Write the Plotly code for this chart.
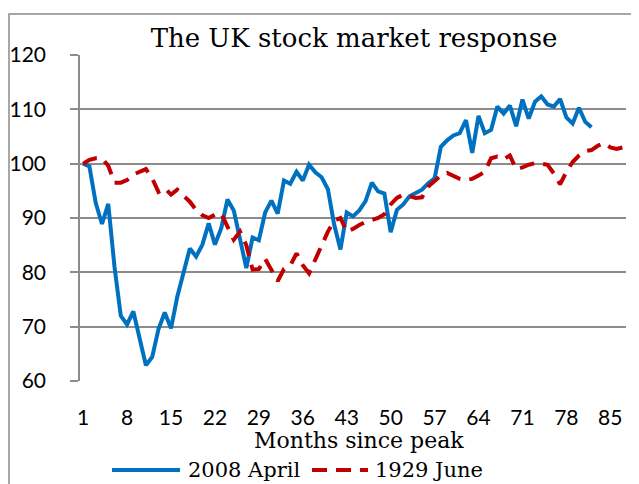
import plotly.graph_objects as go

months = list(range(1, 88))
tick_vals = [1, 8, 15, 22, 29, 36, 43, 50, 57, 64, 71, 78, 85]

series_2008 = [
    100, 99.5, 92.8, 88.9, 92.6, 81, 72, 70.4, 72.8, 68,
    62.9, 64.4, 69.5, 72.6, 69.7, 75.5, 80.2, 84.4, 82.9, 85.1,
    89, 85.1, 88.1, 93.4, 91.4, 86, 80.8, 86.4, 85.9, 91,
    93.2, 90.8, 96.9, 96.3, 98.5, 96.9, 99.8, 98.4, 97.5, 95.3,
    88.8, 84.2, 91, 90.3, 91.4, 93.1, 96.5, 94.9, 94.5, 87.4,
    91.5, 92.5, 94, 94.6, 95.2, 96.4, 97.3, 103.1, 104.3, 105.2,
    105.6, 108, 102, 108.8, 105.6, 106.2, 110.5, 109.2, 110.7, 106.9,
    111.8, 108.3, 111.4, 112.4, 110.9, 110.5, 111.9, 108.5, 107.4, 110.3,
    107.7, 106.7,
]

series_1929 = [
    100, 100.7, 101, 101, 99.6, 96.5, 96.5, 97, 98, 98.6,
    99, 97.3, 94.8, 95.5, 94.3, 95.2, 94.2, 93, 91.5, 90.5,
    90, 90.6, 90.8, 88.5, 86, 87.5, 85, 80.5, 80.6, 82.5,
    80.4, 78.4, 80.6, 81.2, 83.5, 81.3, 79.8, 82.5, 85, 87.5,
    89.5, 90, 87.5, 88, 88.7, 89.3, 89.6, 90, 90.7, 92.5,
    93.7, 94.3, 94, 93.7, 93.8, 95.8, 96.8, 97.8, 98.3, 97.8,
    97.2, 97, 97.2, 97.8, 98.5, 101, 101.3, 100.8, 101.5, 99,
    99.3, 99.8, 100.1, 100, 99.8, 98.2, 96.2, 98.5, 100.3, 101.5,
    102.3, 102.5, 103.3, 103.8, 103, 102.7, 103,
]

names = ["2008 April", "1929 June"]
BLUE = "#0070C0"
RED = "#C00000"
GRID = "#8c8c8c"
DASH = "15px,9px"

fig = go.Figure()
fig.add_trace(go.Scatter(x=months[:len(series_2008)], y=series_2008, mode="lines",
                         name=names[0], line=dict(color=BLUE, width=4)))
fig.add_trace(go.Scatter(x=months[:len(series_1929)], y=series_1929, mode="lines",
                         name=names[1], line=dict(color=RED, width=4, dash=DASH)))

# page has an 8px body margin: figure origin sits at page (8, 8)
OFF = 8
W, H = 639 - OFF, 484 - OFF
L, R, T, B = 80 - OFF, 13, 55 - OFF, 103
pw, ph = W - L - R, H - T - B

def px(x):
    return (x - OFF - L) / pw

def py(y):
    return (H - B - (y - OFF)) / ph

serif = "DejaVu Serif"

fig.update_layout(
    width=W, height=H,
    margin=dict(l=L, r=R, t=T, b=B, autoexpand=False),
    paper_bgcolor="white", plot_bgcolor="white",
    showlegend=False,
    title=dict(text="The UK stock market response", x=px(354), xref="paper",
               xanchor="center", y=1 - (38 - OFF) / H, yanchor="middle",
               font=dict(family=serif, size=26, color="black")),
    xaxis=dict(range=[0.5, 87.5], tickvals=tick_vals, ticktext=[str(v) for v in tick_vals],
               showgrid=False, zeroline=False, showline=False, ticks="",
               ticklabelstandoff=22, automargin=False,
               tickfont=dict(family="Lato", size=21, color="black")),
    yaxis=dict(range=[60, 120], dtick=10, showgrid=True, gridcolor=GRID, gridwidth=1.6,
               zeroline=False, showline=True, linecolor=GRID, linewidth=1.6,
               ticks="outside", ticklen=8, tickcolor=GRID, tickwidth=1.6,
               ticklabelstandoff=20, automargin=False,
               tickfont=dict(family="Lato", size=21, color="black")),
    shapes=[
        dict(type="rect", xref="paper", yref="paper",
             x0=px(9), x1=px(700), y0=py(560), y1=py(14),
             line=dict(color="#8a8a8a", width=1.5), fillcolor="rgba(0,0,0,0)", layer="below"),
        dict(type="line", xref="paper", yref="paper", x0=px(112), x1=px(180),
             y0=py(470), y1=py(470), line=dict(color=BLUE, width=4)),
        dict(type="line", xref="paper", yref="paper", x0=px(312), x1=px(368),
             y0=py(470), y1=py(470), line=dict(color=RED, width=4, dash=DASH)),
    ],
    annotations=[
        dict(text="Months since peak", xref="paper", yref="paper", x=px(358.5), y=py(440),
             xanchor="center", yanchor="middle", showarrow=False,
             font=dict(family=serif, size=22, color="black")),
        dict(text=names[0], xref="paper", yref="paper", x=px(186), y=py(470),
             xanchor="left", yanchor="middle", showarrow=False,
             font=dict(family=serif, size=21, color="black")),
        dict(text=names[1], xref="paper", yref="paper", x=px(373), y=py(470),
             xanchor="left", yanchor="middle", showarrow=False,
             font=dict(family=serif, size=21, color="black")),
    ],
)

fig.write_html("out.html")
